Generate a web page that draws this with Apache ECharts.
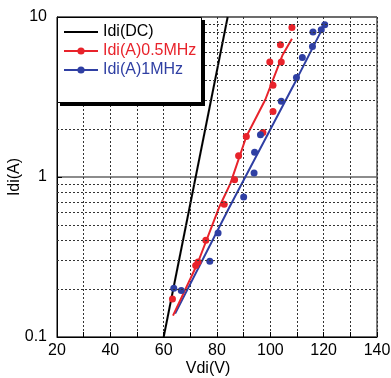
<!DOCTYPE html>
<html><head><meta charset="utf-8">
<script src="https://cdn.jsdelivr.net/npm/echarts@6/dist/echarts.min.js"></script>
<style>html,body{margin:0;padding:0;background:#fff}#c{width:391px;height:378px}</style>
</head><body><div id="c"></div>
<script>
// Series names
const seriesNames = ['Idi(DC)', 'Idi(A)0.5MHz', 'Idi(A)1MHz'];
// DC characteristic (Vdi, Idi)
const dcLine = [[60, 0.1], [84, 10]];
// 0.5 MHz fitted curve
const redFit = [[63.5,0.136],[72.7,0.288],[80.9,0.652],[85,0.91],[91,1.79],[98.1,3.04],[104.6,5.79],[108.1,7.31]];
// 0.5 MHz measured points
const redPts = [[63.3,0.173],[72.0,0.28],[72.9,0.294],[75.8,0.402],[82.7,0.675],[86.6,0.96],[88.1,1.36],[91.0,1.79],[97.2,1.90],[101.0,2.57],[101.0,3.74],[99.8,5.23],[104.1,5.23],[103.8,6.71],[108.1,8.61]];
// 1 MHz fitted curve
const blueFit = [[64.3,0.14],[84.5,0.64],[109.6,4.0],[120.2,8.9]];
// 1 MHz measured points
const bluePts = [[63.8,0.202],[66.6,0.195],[77.3,0.297],[80.4,0.447],[90.0,0.75],[93.9,1.06],[94.1,1.43],[96.3,1.84],[104.1,2.97],[109.8,4.19],[112.0,5.59],[115.8,6.55],[116.0,8.06],[119.1,8.33],[120.4,8.96]];
// Tick labels
const xTickLabels = [20, 40, 60, 80, 100, 120, 140];
// Minor log grid values
const minorGrid = [0.2,0.3,0.4,0.5,0.6,0.7,0.8,0.9,2,3,4,5,6,7,8,9];
const xMin = 20, xMax = 140, xStep = 10;
const yMin = 0.1, yMax = 10;

const RED = '#e8232b', BLUE = '#2f3fa3', BLACK = '#000';
const FONT = 'Liberation Sans';

const chart = echarts.init(document.getElementById('c'), null, {renderer: 'canvas'});
chart.setOption({
  animation: false,
  textStyle: {fontFamily: FONT},
  grid: {left: 57, right: 14, top: 17, bottom: 41, show: true, borderColor: '#000', borderWidth: 1,
    backgroundColor: 'transparent', containLabel: false, outerBoundsMode: 'none'},
  xAxis: {
    type: 'value', min: xMin, max: xMax, interval: xStep,
    name: 'Vdi(V)', nameLocation: 'middle', nameGap: 24, nameMoveOverlap: false,
    nameTextStyle: {fontFamily: FONT, fontSize: 16, color: '#000', padding: [0, 18, 0, 0]},
    axisLine: {lineStyle: {color: '#000', width: 1}},
    axisTick: {inside: true, length: 5, lineStyle: {color: '#000'}},
    axisLabel: {margin: 6, fontFamily: FONT, fontSize: 16, color: '#000',
      showMinLabel: true, showMaxLabel: true, hideOverlap: false,
      formatter: v => (xTickLabels.indexOf(Math.round(v)) >= 0 ? String(Math.round(v)) : '')},
    splitLine: {show: true, lineStyle: {color: '#333', width: 1, type: [2, 2]}}
  },
  yAxis: {
    type: 'log', logBase: 10, min: yMin, max: yMax,
    name: 'Idi(A)', nameLocation: 'middle', nameGap: 34, nameRotate: 90, nameMoveOverlap: false,
    nameTextStyle: {fontFamily: FONT, fontSize: 16, color: '#000'},
    axisLine: {lineStyle: {color: '#000', width: 1}},
    axisTick: {inside: true, length: 5, lineStyle: {color: '#000'}},
    axisLabel: {margin: 10, fontFamily: FONT, fontSize: 16, color: '#000', padding: [0, 0, 3, 0],
      formatter: v => String(+v.toPrecision(3))},
    splitLine: {show: true, lineStyle: {color: '#666', width: 1.5}}
  },
  legend: {
    orient: 'vertical', left: 58, top: 19, z: 60, padding: 5,
    itemWidth: 34, itemHeight: 9, itemGap: 3,
    textStyle: {fontFamily: FONT, fontSize: 16},
    data: [
      {name: seriesNames[0], textStyle: {color: BLACK}, itemStyle: {color: 'rgba(0,0,0,0)', borderWidth: 0}},
      {name: seriesNames[1], textStyle: {color: RED}},
      {name: seriesNames[2], textStyle: {color: BLUE}}
    ]
  },
  graphic: [
    {type: 'rect', z: 50, shape: {x: 60, y: 20, width: 145, height: 86}, style: {fill: '#000'}},
    {type: 'rect', z: 51, shape: {x: 57.5, y: 17.5, width: 144, height: 85}, style: {fill: '#fff', stroke: '#000', lineWidth: 1}}
  ],
  series: [
    {name: 'minorgrid', type: 'line', data: [], z: 1, silent: true,
      markLine: {silent: true, symbol: 'none', label: {show: false}, animation: false,
        lineStyle: {color: '#333', width: 1, type: [2, 2]},
        data: minorGrid.map(v => ({yAxis: v}))}},
    {name: seriesNames[0], type: 'line', data: dcLine, symbol: 'none', z: 3,
      lineStyle: {color: BLACK, width: 2}, itemStyle: {color: BLACK}},
    {name: seriesNames[2], type: 'line', data: blueFit, symbol: 'circle', showSymbol: false, z: 3,
      lineStyle: {color: BLUE, width: 2}, itemStyle: {color: BLUE}},
    {name: seriesNames[1], type: 'line', data: redFit, symbol: 'circle', showSymbol: false, z: 3,
      lineStyle: {color: RED, width: 2}, itemStyle: {color: RED}},
    {name: 'redPts', type: 'scatter', data: redPts, symbolSize: 7, z: 4, itemStyle: {color: RED, opacity: 1}},
    {name: 'bluePts', type: 'scatter', data: bluePts, symbolSize: 7, z: 4, itemStyle: {color: BLUE, opacity: 1}}
  ]
});
</script></body></html>
